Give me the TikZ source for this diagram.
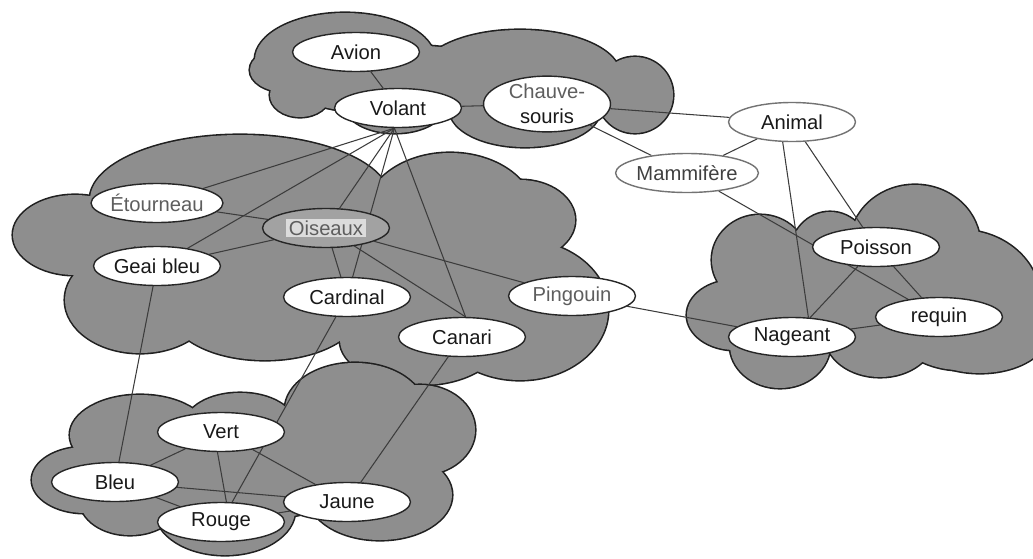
\documentclass[tikz,border=0pt]{standalone}
\usepackage{fontspec}
\setmainfont{Liberation Sans}
\usetikzlibrary{shapes.geometric}
\definecolor{cloudgray}{HTML}{8E8E8E}
\definecolor{cloudline}{HTML}{202020}
\definecolor{linkgray}{HTML}{3C3C3C}
\definecolor{fainttext}{HTML}{5E5E5E}
\definecolor{markbg}{HTML}{DCDCDC}
\pgfdeclarelayer{clouds}
\pgfdeclarelayer{links}
\pgfsetlayers{clouds,links,main}
\newcommand\cloudblob[1]{%
  \foreach \cx/\cy/\rx/\ry in {#1}
    \draw[cloud edge] (\cx,\cy) ellipse [x radius=\rx, y radius=\ry];
  \foreach \cx/\cy/\rx/\ry in {#1}
    \fill[cloud fill] (\cx,\cy) ellipse [x radius=\rx, y radius=\ry];
}

\begin{document}
\begin{tikzpicture}[
        x=0.02cm, y=-0.02cm,
        cloud edge/.style={draw=cloudline, line width=1.8pt},
        cloud fill/.style={fill=cloudgray},
        link/.style={draw=linkgray, line width=0.6pt},
        every node/.style={ellipse, draw=black!85, line width=0.8pt, fill=white, inner sep=0pt,
          minimum width=2.54cm, minimum height=0.78cm, font=\fontsize{11.5}{14}\selectfont, text=black!90},
        faint/.style={text=fainttext},
        light/.style={draw=black!55},
        marked/.style={fill=cloudgray!82!white, path picture={\fill[markbg]
          ([xshift=-22.5pt, yshift=-5pt]path picture bounding box.center) rectangle
          ([xshift=22.5pt, yshift=5.2pt]path picture bounding box.center);}}
      ]
      \useasboundingbox (0,0) rectangle (1033,558);
      \node (avion) at (356,52) {Avion};
      \node (volant) at (398,108) {Volant};
      \node[minimum height=0.9cm, align=center] (chauve) at (547,104) {\textcolor{fainttext}{Chauve-}\\souris};
      \node[light] (animal) at (792,122) {Animal};
      \node[light, text=black!75] (mammifere) at (687,173) {Mammifère};
      \node[faint] (etourneau) at (157,203) {Étourneau};
      \node[marked, faint] (oiseaux) at (326,228) {Oiseaux};
      \node (geai) at (157,266) {Geai bleu};
      \node (cardinal) at (347,297) {Cardinal};
      \node[faint] (pingouin) at (572,296) {Pingouin};
      \node (canari) at (462,337) {Canari};
      \node (poisson) at (876,247) {Poisson};
      \node (requin) at (939,317) {requin};
      \node (nageant) at (792,337) {Nageant};
      \node (vert) at (221,432) {Vert};
      \node (bleu) at (115,482) {Bleu};
      \node (jaune) at (347,502) {Jaune};
      \node (rouge) at (221,522) {Rouge};

      \begin{pgfonlayer}{links}
        \foreach \a/\b in {avion/volant, volant/chauve, chauve/animal, chauve/mammifere,
            mammifere/animal, mammifere/requin, animal/poisson, poisson/nageant,
            poisson/requin, nageant/requin, pingouin/nageant, oiseaux/etourneau,
            oiseaux/geai, oiseaux/cardinal, oiseaux/pingouin, geai/bleu, cardinal/rouge,
            canari/jaune, vert/bleu, vert.260/rouge.75, vert/jaune, bleu/rouge, bleu/jaune, rouge/jaune}
          \draw[link] (\a) -- (\b);
        \foreach \b in {etourneau, geai, oiseaux, cardinal, canari.80}
          \draw[link] (volant.260) -- (\b);
        \draw[link] (oiseaux) -- (canari.80);
        \draw[link] (animal.245) -- (nageant.50);
      \end{pgfonlayer}

      \begin{pgfonlayer}{clouds}
        \cloudblob{75/235/62/40, 140/300/75/53, 265/310/95/50, 240/200/150/65, 450/215/85/62,
          520/220/55/40, 520/310/88/70, 420/340/80/45, 330/270/150/60}
        \cloudblob{85/480/53/33, 140/435/70/40, 240/425/55/32, 355/410/70/47, 420/430/55/45,
          380/495/72/45, 225/510/70/45, 130/500/50/35, 250/470/110/50}
        \cloudblob{345/60/90/47, 520/75/100/45, 635/95/38/38, 525/110/75/37, 395/105/50/28,
          300/95/30/22, 285/70/35/22, 400/80/120/35}
        \cloudblob{760/260/48/45, 735/315/48/35, 830/255/40/43, 915/245/65/60, 960/300/80/70,
          980/330/70/43, 880/335/55/42, 780/345/50/43, 850/300/80/50}
      \end{pgfonlayer}
    \end{tikzpicture}
\end{document}
